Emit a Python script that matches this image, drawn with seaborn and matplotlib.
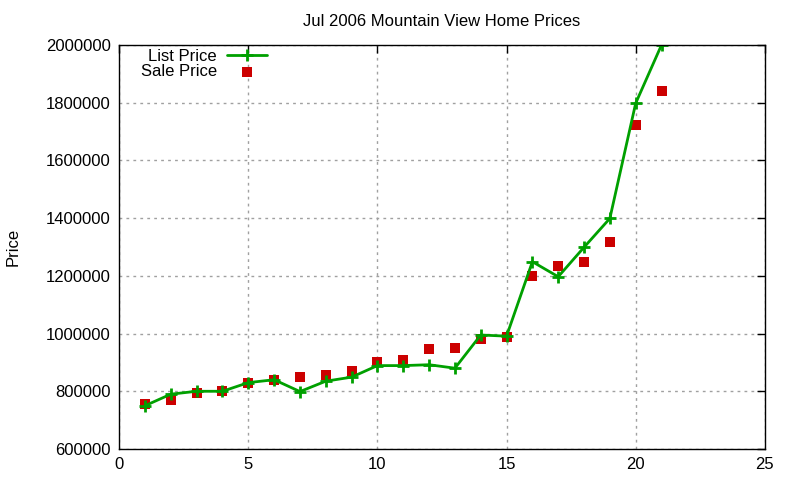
import matplotlib
matplotlib.use("Agg")
import matplotlib.pyplot as plt
import seaborn as sns
import pandas as pd

homes = list(range(1, 22))
list_price = [750000, 790000, 800000, 800000, 830000, 840000, 799000, 835000, 849000,
              889000, 889000, 892000, 880000, 995000, 991000, 1249000, 1197000,
              1299000, 1399000, 1798000, 2000000]
sale_price = [757000, 771000, 795000, 802000, 830000, 840000, 851000, 857000, 871000,
              902000, 909000, 947000, 951000, 982000, 989000, 1200000, 1235000,
              1249000, 1318000, 1724000, 1842000]
x_ticks = [0, 5, 10, 15, 20, 25]
y_ticks = [600000, 800000, 1000000, 1200000, 1400000, 1600000, 1800000, 2000000]

df = pd.DataFrame({"home": homes, "List Price": list_price, "Sale Price": sale_price})

sns.set_style("white")
plt.rcParams['font.family'] = ['Liberation Sans', 'DejaVu Sans']
plt.rcParams['font.size'] = 12
plt.rcParams['text.color'] = 'black'
plt.rcParams['axes.labelcolor'] = 'black'

fig = plt.figure(figsize=(8, 4.8), dpi=100)
ax = fig.add_axes([0.149, 0.0646, 0.807, 0.8417])

sns.lineplot(data=df, x="home", y="List Price", ax=ax, color="#00a000", linewidth=2,
             marker="+", markersize=9, markeredgewidth=2, markeredgecolor="#00a000",
             label="List Price")
sns.scatterplot(data=df, x="home", y="Sale Price", ax=ax, color="#cc0000", marker="s",
                s=55, linewidth=0, label="Sale Price")

ax.set_xlim(0, 25)
ax.set_ylim(600000, 2000000)
ax.set_xticks(x_ticks)
ax.set_yticks(y_ticks)
ax.set_xticklabels([str(v) for v in x_ticks])
ax.set_yticklabels([str(v) for v in y_ticks])
ax.tick_params(direction="in", length=6, width=1, top=True, right=True,
               labelsize=12, colors="black", labelcolor="black", pad=6)
ax.grid(True, color="#a0a0a0", linestyle=(0, (2, 3)), linewidth=1)
for s in ax.spines.values():
    s.set_color("black")
    s.set_linewidth(1)
ax.set_xlabel("")
ax.set_ylabel("Price", fontsize=12, labelpad=18, color="black")
ax.set_title("Jul 2006 Mountain View Home Prices", fontsize=12, pad=14, color="black")

leg = ax.legend(loc="upper left", frameon=False, markerfirst=False, fontsize=12,
                handlelength=2.4, borderaxespad=0.0, bbox_to_anchor=(0.023, 1.006),
                labelspacing=0.0, handletextpad=0.6)
for t in leg.get_texts():
    t.set_color("black")

fig.savefig("out.png", dpi=100)
